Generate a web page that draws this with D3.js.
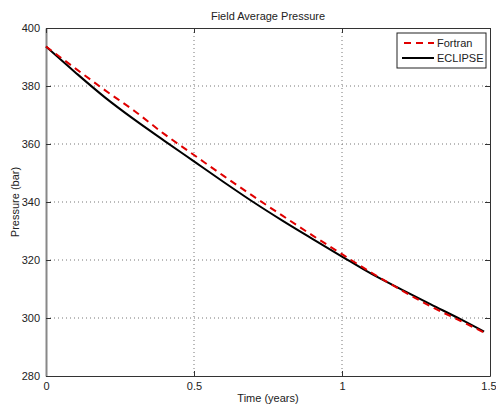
<!DOCTYPE html>
<html>
<head>
<meta charset="utf-8">
<script src="https://cdn.jsdelivr.net/npm/d3@7"></script>
<style>
  body { margin: 0; background: #fff; }
  svg { display: block; font-family: "Liberation Sans", Arial, sans-serif; }
  .tick text { font-size: 11px; fill: #222; }
</style>
</head>
<body>
<div id="chart"></div>
<script>
'use strict';

// time in years
var years = [0, 0.1, 0.2, 0.3, 0.4, 0.5, 0.6, 0.7, 0.8, 0.9, 1.0, 1.1, 1.2, 1.3, 1.4, 1.48];
var fortran = [393.6, 386.0, 378.5, 371.3, 363.4, 356.2, 349.0, 342.0, 335.2, 328.5, 322.0, 315.6, 309.6, 304.0, 299.0, 295.0];
var eclipse = [393.6, 384.6, 376.0, 368.3, 361.1, 354.0, 346.9, 340.0, 333.5, 327.3, 321.2, 315.2, 309.9, 304.7, 299.6, 295.3];
var xTicks = [0, 0.5, 1, 1.5];
var yTicks = [280, 300, 320, 340, 360, 380, 400];
var seriesNames = ['Fortran', 'ECLIPSE'];

var width = 496, height = 405;
var margin = {top: 28, right: 6, bottom: 29, left: 46};
var w = width - margin.left - margin.right;
var h = height - margin.top - margin.bottom;

var svg = d3.select('#chart').append('svg')
    .attr('width', width)
    .attr('height', height);

var g = svg.append('g')
    .attr('transform', 'translate(' + margin.left + ',' + margin.top + ')');

var x = d3.scaleLinear().domain([0, 1.5]).range([0, w]);
var y = d3.scaleLinear().domain([280, 400]).range([h, 0]);

// grid
g.append('g').selectAll('line')
    .data(xTicks.slice(1, -1))
    .enter().append('line')
    .attr('x1', function(d) { return x(d); })
    .attr('x2', function(d) { return x(d); })
    .attr('y1', 0).attr('y2', h)
    .attr('stroke', '#777').attr('stroke-dasharray', '1,3');

g.append('g').selectAll('line')
    .data(yTicks.slice(1, -1))
    .enter().append('line')
    .attr('y1', function(d) { return y(d); })
    .attr('y2', function(d) { return y(d); })
    .attr('x1', 0).attr('x2', w)
    .attr('stroke', '#777').attr('stroke-dasharray', '1,3');

// axes, matlab style: ticks point inward
var xAxis = g.append('g')
    .attr('transform', 'translate(0,' + h + ')')
    .call(d3.axisBottom(x).tickValues(xTicks).tickSizeInner(-5).tickSizeOuter(0).tickPadding(6)
        .tickFormat(function(d) { return d; }));
var yAxis = g.append('g')
    .call(d3.axisLeft(y).tickValues(yTicks).tickSizeInner(-5).tickSizeOuter(0).tickPadding(6));
var xTop = g.append('g')
    .call(d3.axisTop(x).tickValues(xTicks).tickSizeInner(-5).tickSizeOuter(0).tickFormat(''));
var yRight = g.append('g')
    .attr('transform', 'translate(' + w + ',0)')
    .call(d3.axisRight(y).tickValues(yTicks).tickSizeInner(-5).tickSizeOuter(0).tickFormat(''));

[xAxis, yAxis, xTop, yRight].forEach(function(a) {
    a.select('.domain').attr('stroke', '#333');
    a.selectAll('.tick line').attr('stroke', '#333');
});
yAxis.select('.domain').attr('stroke', '#888').attr('stroke-width', 2);

// last x label sits at the page edge, keep it inside
xAxis.selectAll('.tick text')
    .filter(function(d) { return d === 1.5; })
    .attr('text-anchor', 'end')
    .attr('dx', '0.55em');

// lines
var line = d3.line()
    .x(function(d, i) { return x(years[i]); })
    .y(function(d) { return y(d); })
    .curve(d3.curveMonotoneX);

g.append('path')
    .datum(eclipse)
    .attr('fill', 'none')
    .attr('stroke', '#000')
    .attr('stroke-width', 2)
    .attr('d', line);

g.append('path')
    .datum(fortran)
    .attr('fill', 'none')
    .attr('stroke', '#e00000')
    .attr('stroke-width', 2)
    .attr('stroke-dasharray', '7,5')
    .attr('d', line);

// title and labels
svg.append('text')
    .attr('x', margin.left + w / 2).attr('y', 20)
    .attr('text-anchor', 'middle')
    .style('font-size', '11px').attr('fill', '#222')
    .text('Field Average Pressure');

svg.append('text')
    .attr('x', margin.left + w / 2).attr('y', 402)
    .attr('text-anchor', 'middle')
    .style('font-size', '11px').attr('fill', '#222')
    .text('Time (years)');

svg.append('text')
    .attr('transform', 'translate(19,' + (margin.top + h / 2) + ') rotate(-90)')
    .attr('text-anchor', 'middle')
    .style('font-size', '11px').attr('fill', '#222')
    .text('Pressure (bar)');

// legend
var legend = svg.append('g').attr('transform', 'translate(397,33)');
legend.append('rect')
    .attr('width', 89).attr('height', 35)
    .attr('fill', '#fff').attr('stroke', '#222');

var items = legend.selectAll('.item')
    .data(seriesNames)
    .enter().append('g')
    .attr('class', 'item')
    .attr('transform', function(d, i) { return 'translate(0,' + (10 + i * 15) + ')'; });

items.append('line')
    .attr('x1', function(d, i) { return i === 0 ? 7 : 5; })
    .attr('x2', 37)
    .attr('stroke', function(d, i) { return i === 0 ? '#e00000' : '#000'; })
    .attr('stroke-width', 2)
    .attr('stroke-dasharray', function(d, i) { return i === 0 ? '7,5' : null; });

items.append('text')
    .attr('x', 40).attr('dy', '0.35em')
    .style('font-size', '11px').attr('fill', '#222')
    .text(function(d) { return d; });
</script>
</body>
</html>
